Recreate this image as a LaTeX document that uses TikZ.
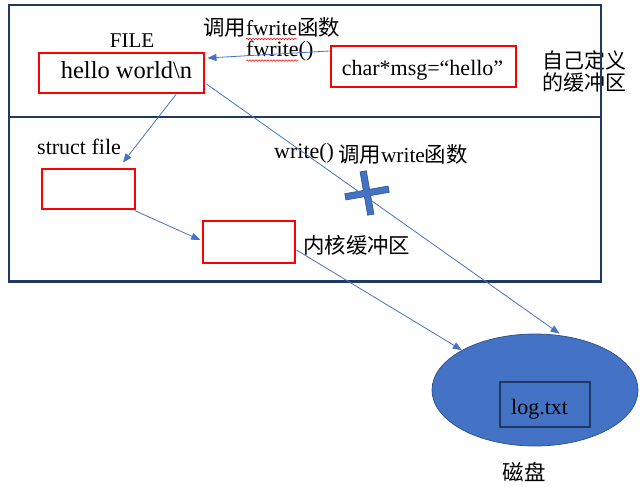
\documentclass[tikz,border=0pt]{standalone}
\usepackage{fontspec}
\setmainfont{Liberation Serif}
\newfontfamily\cjk{Noto Sans CJK SC}
\usetikzlibrary{arrows.meta,shapes.geometric,decorations.pathmorphing}
\definecolor{navy}{HTML}{1F3864}
\definecolor{linkblue}{HTML}{4472C4}
\definecolor{edgeblue}{HTML}{2F528F}
\begin{document}
\begin{tikzpicture}[x=1pt,y=-1pt,
  layerbox/.style={draw=navy,line width=2.8pt,inner sep=0,minimum width=592pt},
  redbox/.style={draw=red,line width=2.9pt,inner sep=0},
  conn/.style={draw=linkblue,line width=0.8pt,-{Triangle[length=9pt,width=7pt]}},
  txt/.style={inner sep=0,font=\fontsize{22}{24}\selectfont},
  cjktxt/.style={inner sep=0,font=\fontsize{21.4}{24}\selectfont\cjk},
  wavy/.style={draw=red,line width=0.5pt,decorate,decoration={snake,amplitude=0.8pt,segment length=3pt}}]
\useasboundingbox (0,0) rectangle (640,487);

% side note (drawn under the frame line, as in the reference)
\node[cjktxt,font=\fontsize{21}{24}\selectfont\cjk,anchor=west] (own1) at (542,60) {自己定义};
\node[cjktxt,font=\fontsize{21}{24}\selectfont\cjk,anchor=west] (own2) at (542,83) {的缓冲区};

% layers
\node[layerbox,minimum height=112pt] (user) at (305,61) {};
\node[layerbox,minimum height=164.7pt] (kernel) at (305,199.35) {};

% buffers
\node[redbox,minimum width=165pt,minimum height=40pt] (hw) at (121.5,73) {};
\node[redbox,minimum width=185pt,minimum height=41pt] (msg) at (423.5,66.5) {};
\node[redbox,minimum width=93pt,minimum height=40pt] (sf) at (88.5,189) {};
\node[redbox,minimum width=92pt,minimum height=42pt] (kb) at (249,242) {};

% disk
\node[ellipse,fill=linkblue,draw=edgeblue,line width=0.75pt,minimum width=206pt,minimum height=112pt,inner sep=0] (disk) at (535,390) {};
\node[draw=navy,line width=2.8pt,minimum width=90pt,minimum height=45pt,inner sep=0] (logbox) at (545,404.5) {};

% texts
\node[txt,font=\fontsize{21}{24}\selectfont,anchor=base] (filelbl) at (132,47.3) {FILE};
\node[txt,font=\fontsize{24.5}{26}\selectfont,anchor=base] (hwtext) at (126.5,78.3) {hello world\textbackslash n};
\node[txt,anchor=base] (msgtext) at (422.5,75) {char*msg=“hello”};
\node[txt,font=\fontsize{21.4}{24}\selectfont,anchor=base west,text depth=0pt] (callf) at (203,35.5) {{\cjk 调用}fwrite{\cjk 函数}};
\node[txt,anchor=base west,text height=13pt] (fw) at (246,57) {fwrite()};
\draw[wavy] (246,39) -- (297,39);
\draw[wavy] (246,60.5) -- (298,60.5);
\node[txt,anchor=base west] (sflbl) at (37,154) {struct file};
\node[txt,anchor=base west] (wr) at (274,158) {write()};
\node[txt,font=\fontsize{21.4}{24}\selectfont,anchor=base west] (callw) at (338,162.5) {{\cjk 调用}write{\cjk 函数}};
\node[cjktxt,anchor=west] (kbl) at (303,245) {内核缓冲区};
\node[txt,anchor=base west] (logt) at (511,414) {log.txt};
\node[cjktxt,font=\fontsize{21.5}{24}\selectfont\cjk] (diskl) at (524,472) {磁盘};

% blocked write() marker
\begin{scope}[shift={(367,193)},rotate=10]
\filldraw[fill=linkblue,draw=edgeblue,line width=0.6pt]
  (-22,-3.2) -- (-3.2,-3.2) -- (-3.2,-22) -- (3.2,-22) -- (3.2,-3.2) -- (22,-3.2) -- (22,3.2) -- (3.2,3.2)
  -- (3.2,22) -- (-3.2,22) -- (-3.2,3.2) -- (-22,3.2) -- cycle;
\end{scope}

% connectors
\draw[conn] ([yshift=15.5pt]msg.west) -- ([xshift=2pt,yshift=15pt]hw.east);
\draw[conn] ([xshift=54.5pt]hw.south) -- ([xshift=34.5pt,yshift=5pt]sf.north);
\draw[conn] ([xshift=1pt,yshift=-11pt]hw.east) -- ([xshift=24.5pt]disk.north);
\draw[conn] ([xshift=-2pt]sf.south east) -- ([xshift=-1.3pt,yshift=2pt]kb.west);
\draw[conn] ([yshift=-8pt]kb.east) -- (disk.north west);
\end{tikzpicture}
\end{document}
